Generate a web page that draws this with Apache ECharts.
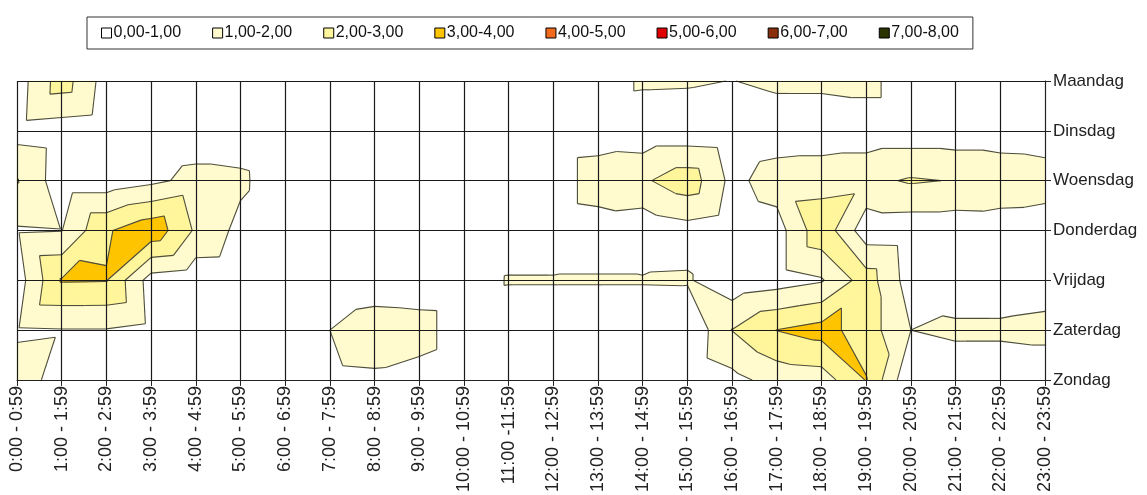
<!DOCTYPE html>
<html>
<head>
<meta charset="utf-8">
<script src="https://cdn.jsdelivr.net/npm/echarts@6/dist/echarts.min.js"></script>
<style>
html,body{margin:0;padding:0;background:#fff;}
#chart{width:1147px;height:495px;}
</style>
</head>
<body>
<div id="chart"></div>
<script>
// ---- data ----
const hours = ['0:00 - 0:59','1:00 - 1:59','2:00 - 2:59','3:00 - 3:59','4:00 - 4:59','5:00 - 5:59',
  '6:00 - 6:59','7:00 - 7:59','8:00 - 8:59','9:00 - 9:59','10:00 - 10:59','11:00 -11:59',
  '12:00 - 12:59','13:00 - 13:59','14:00 - 14:59','15:00 - 15:59','16:00 - 16:59','17:00 - 17:59',
  '18:00 - 18:59','19:00 - 19:59','20:00 - 20:59','21:00 - 21:59','22:00 - 22:59','23:00 - 23:59'];
const days = ['Maandag','Dinsdag','Woensdag','Donderdag','Vrijdag','Zaterdag','Zondag'];
const bandLabels = ['0,00-1,00','1,00-2,00','2,00-3,00','3,00-4,00','4,00-5,00','5,00-6,00','6,00-7,00','7,00-8,00'];
const bandColors = ['#FFFFFF','#FFFBCF','#FFF59A','#FFC400','#F26B1D','#E00000','#8B2E0B','#2B3300'];

const maandag   = [0.5,2.5,0.55,0.3,0.25,0.2,0.2,0.2,0.25,0.2,0.2,0.25,0.3,0.4,1.15,1.12,0.98,1.2,1.2,1.3,0.4,0.3,0.3,0.25];
const dinsdag   = [0.6,0.45,0.3,0.3,0.4,0.4,0.2,0.2,0.2,0.2,0.2,0.2,0.3,0.4,0.3,0.3,0.2,0.4,0.4,0.4,0.4,0.4,0.4,0.35];
const woensdag  = [2.05,0.4,0.4,0.77,1.3,1.2,0.25,0.2,0.2,0.2,0.2,0.25,0.3,1.6,1.85,2.6,0.7,1.5,1.6,1.75,2.1,1.95,1.75,1.55];
const donderdag = [0.9,0.97,2.88,3.7,1.85,0.7,0.2,0.2,0.2,0.2,0.25,0.3,0.3,0.45,0.3,0.6,0.3,0.55,2.7,0.4,0.35,0.35,0.4,0.35];
const vrijdag   = [0.5,3.08,3.05,0.55,0.3,0.25,0.2,0.3,0.45,0.35,0.3,1.08,1.08,1.08,1.08,1.1,0.3,0.55,0.9,2.5,0.5,0.35,0.35,0.5];
const zaterdag  = [0.9,0.95,0.95,0.7,0.3,0.2,0.3,1.0,1.5,1.45,0.3,0.2,0.2,0.2,0.2,0.1,2.02,3.02,3.4,2.5,1.0,1.2,1.2,1.3];
const zondag    = [1.3,0.75,0.4,0.3,0.2,0.2,0.3,0.8,0.85,0.6,0.3,0.2,0.2,0.2,0.2,0.2,0.7,1.37,1.5,3.05,0.1,0.3,0.3,0.3];

const rows = [maandag, dinsdag, woensdag, donderdag, vrijdag, zaterdag, zondag];

// cells (one per grid square)
const cells = [];
for (let d = 0; d < days.length - 1; d++)
  for (let h = 0; h < hours.length - 1; h++) cells.push([h, d]);

// ---- contour helpers (linear interpolation on 2 triangles per cell) ----
function lerpPt(a, b, L) {
  const t = (L - a.v) / (b.v - a.v);
  return { p: [a.p[0] + t * (b.p[0] - a.p[0]), a.p[1] + t * (b.p[1] - a.p[1])], v: L };
}
function clip(poly, L, keepAbove) {
  const out = [];
  const n = poly.length;
  for (let i = 0; i < n; i++) {
    const a = poly[i], b = poly[(i + 1) % n];
    const ain = keepAbove ? a.v >= L : a.v <= L;
    const bin = keepAbove ? b.v >= L : b.v <= L;
    if (ain) out.push(a);
    if (ain !== bin && a.v !== b.v) out.push(lerpPt(a, b, L));
  }
  return out;
}
function cellTriangles(api) {
  const h = api.value(0), d = api.value(1);
  const P = [api.coord([h, d]), api.coord([h + 1, d]), api.coord([h + 1, d + 1]), api.coord([h, d + 1])];
  const V = [rows[d][h], rows[d][h + 1], rows[d + 1][h + 1], rows[d + 1][h]];
  const q = P.map((p, i) => ({ p, v: V[i] }));
  // split along the diagonal joining the higher pair of corners
  if (V[0] + V[2] >= V[1] + V[3]) return [[q[0], q[1], q[2]], [q[0], q[2], q[3]]];
  return [[q[0], q[1], q[3]], [q[1], q[2], q[3]]];
}
function renderFill(params, api) {
  const children = [];
  cellTriangles(api).forEach(tri => {
    for (let b = 1; b < bandColors.length; b++) {
      let poly = clip(tri, b, true);
      if (poly.length < 3) continue;
      poly = clip(poly, b + 1, false);
      if (poly.length < 3) continue;
      children.push({
        type: 'polygon',
        shape: { points: poly.map(q => q.p) },
        style: { fill: bandColors[b], stroke: bandColors[b], lineWidth: 0.6 }
      });
    }
  });
  return { type: 'group', children };
}
function renderLines(params, api) {
  const children = [];
  cellTriangles(api).forEach(tri => {
    for (let L = 1; L < bandColors.length; L++) {
      const pts = [];
      for (let i = 0; i < 3; i++) {
        const a = tri[i], b = tri[(i + 1) % 3];
        if ((a.v >= L) !== (b.v >= L)) pts.push(lerpPt(a, b, L).p);
      }
      if (pts.length === 2) {
        children.push({
          type: 'line',
          shape: { x1: pts[0][0], y1: pts[0][1], x2: pts[1][0], y2: pts[1][1] },
          style: { stroke: '#4d4d3d', lineWidth: 1.1 }
        });
      }
    }
  });
  return { type: 'group', children };
}

const font = "'Liberation Sans', Arial, sans-serif";
const chart = echarts.init(document.getElementById('chart'), null, { renderer: 'canvas' });

const legendSeries = bandLabels.map((name, i) => ({
  name, type: 'bar', data: [], itemStyle: { color: bandColors[i], borderColor: '#000', borderWidth: 1 }
}));

chart.setOption({
  animation: false,
  backgroundColor: '#fff',
  textStyle: { fontFamily: font },
  legend: {
    left: 87, top: 17,
    padding: [8, 14, 8, 14],
    itemGap: 31,
    itemWidth: 10, itemHeight: 10,
    borderColor: '#333', borderWidth: 1,
    icon: 'rect',
    selectedMode: false,
    itemStyle: { borderColor: '#000', borderWidth: 1 },
    textStyle: { fontFamily: font, fontSize: 16, color: '#111', padding: [0, 0, 0, -3] },
    data: bandLabels
  },
  grid: { left: 17, right: 102, top: 81, bottom: 115 },
  xAxis: {
    type: 'category', data: hours, boundaryGap: false, z: 10,
    axisLine: { show: true, lineStyle: { color: '#222', width: 1 } },
    axisTick: { show: true, length: 6, lineStyle: { color: '#222' } },
    axisLabel: { rotate: 90, interval: 0, fontSize: 18, color: '#222', fontFamily: font, margin: 6 },
    splitLine: { show: true, interval: 0, lineStyle: { color: '#1a1a1a', width: 1.2 } }
  },
  yAxis: {
    type: 'category', data: days, boundaryGap: false, inverse: true, position: 'right', z: 10,
    axisLine: { show: true, lineStyle: { color: '#222', width: 1 } },
    axisTick: { show: true, length: 6, lineStyle: { color: '#222' } },
    axisLabel: { interval: 0, fontSize: 17, color: '#222', fontFamily: font, margin: 8 },
    splitLine: { show: true, interval: 0, lineStyle: { color: '#1a1a1a', width: 1.2 } }
  },
  series: [
    { type: 'custom', name: 'fill', data: cells, renderItem: renderFill, encode: { x: 0, y: 1 }, z: 2, silent: true },
    { type: 'custom', name: 'lines', data: cells, renderItem: renderLines, encode: { x: 0, y: 1 }, z: 3, silent: true }
  ].concat(legendSeries)
});
</script>
</body>
</html>
